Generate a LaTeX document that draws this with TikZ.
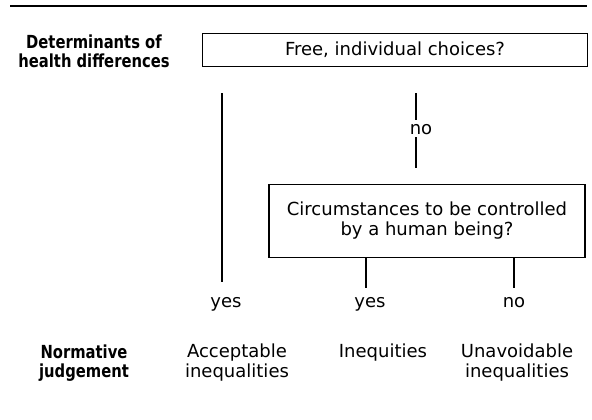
\documentclass[tikz,border=0pt]{standalone}
\usepackage{fontspec}
\setmainfont{DejaVu Sans}
\newfontfamily\headfont{DejaVu Sans}[FakeStretch=0.82]
\usetikzlibrary{positioning}
\tikzset{
  qbox/.style={draw, line width=1.1pt, align=center, font=\fontsize{13.5}{15}\selectfont},
  answer/.style={font=\fontsize{13.5}{15}\selectfont, inner sep=1pt, anchor=base},
  rowhead/.style={font=\fontsize{13.5}{14}\selectfont\headfont\bfseries, align=center},
  verdict/.style={font=\fontsize{13.5}{15}\selectfont, align=center},
  branch/.style={line width=1pt}
}
\begin{document}
\begin{tikzpicture}[x=0.75pt,y=-0.75pt]
  \useasboundingbox (0,0) rectangle (592,419);
  % top rule
  \draw[line width=1.3pt] (10,6) -- (587,6);
  % row headings
  \node[rowhead] (determ) at (94,51) {Determinants of\\health differences};
  \node[rowhead] (norm) at (84,363) {Normative\\judgement};
  % questions
  \node[qbox, minimum width=289pt, minimum height=25pt] (free) at (395,50) {Free, individual choices?};
  \node[qbox, minimum width=237pt, minimum height=55pt] (circ) at (427,221)
    {Circumstances to be controlled\\by a human being?};
  % answers
  \node[answer] (yesA) at (226,307) {yes};
  \node[answer] (noA) at (421,134) {no};
  \node[answer] (yesB) at (370,307) {yes};
  \node[answer] (noB) at (514,307) {no};
  % judgements
  \node[verdict] (accept) at (237,363) {Acceptable\\inequalities};
  \node[verdict] (inequ) at (383,353) {Inequities};
  \node[verdict] (unavoid) at (517,363) {Unavoidable\\inequalities};
  % branches
  \coordinate (leftTop) at (222,93);
  \coordinate (leftEnd) at (222,282);
  \draw[branch] (leftTop) -- (leftEnd);
  \draw[branch] (leftTop -| 416,0) -- (416,120);
  \draw[branch] (416,137) -- ([yshift=12pt]circ.north -| 416,0);
  \draw[branch] (circ.south -| 366,0) -- (366,288);
  \draw[branch] (circ.south -| noB) -- (noB |- 0,288);
\end{tikzpicture}
\end{document}
